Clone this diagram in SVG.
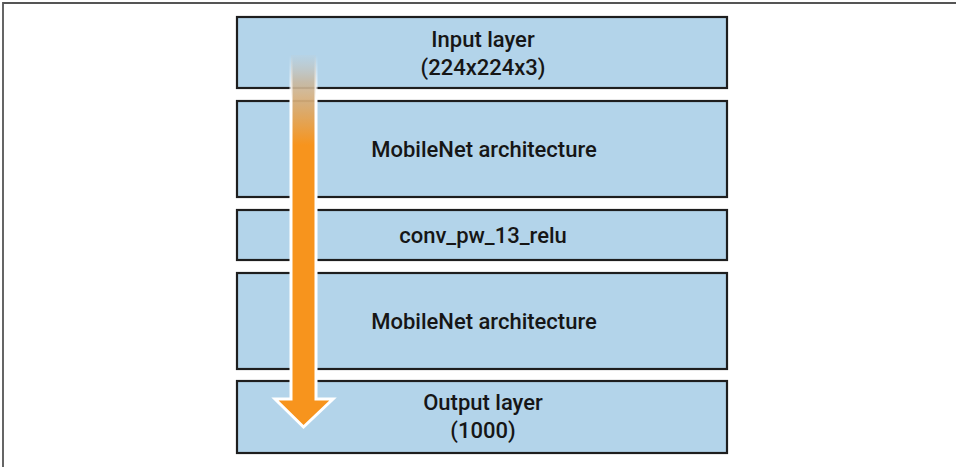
<svg xmlns="http://www.w3.org/2000/svg" width="956" height="467" viewBox="0 0 956 467">
<style>
.box{fill:#b3d4ea;stroke:#1e1e1e;stroke-width:2.2}
.lbl{font-family:Roboto,"Liberation Sans",Arial,sans-serif;font-weight:500;font-size:22px;fill:#161616;text-anchor:middle}
</style>
<defs>
<linearGradient id="ag" gradientUnits="userSpaceOnUse" x1="0" y1="55" x2="0" y2="145">
<stop offset="0" stop-color="#c9c4bc" stop-opacity="0.1"/>
<stop offset="0.3" stop-color="#c8b8a0" stop-opacity="0.9"/>
<stop offset="1" stop-color="#f7941d"/>
</linearGradient>
<linearGradient id="wg" gradientUnits="userSpaceOnUse" x1="0" y1="55" x2="0" y2="100">
<stop offset="0" stop-color="#ffffff" stop-opacity="0"/>
<stop offset="1" stop-color="#ffffff" stop-opacity="1"/>
</linearGradient>
</defs>
<rect width="956" height="467" fill="#ffffff"/>
<path d="M3 467 V3 H956" fill="none" stroke="#555" stroke-width="1.8"/>
<g id="input">
<rect class="box" x="237" y="17" width="490" height="71"/>
<text class="lbl" x="483" y="47">Input layer</text>
<text class="lbl" x="483" y="75">(224x224x3)</text>
</g>
<g id="mobilenet1">
<rect class="box" x="237" y="101" width="490" height="96"/>
<text class="lbl" x="484" y="157">MobileNet architecture</text>
</g>
<g id="conv">
<rect class="box" x="237" y="210" width="490" height="50"/>
<text class="lbl" x="483" y="243">conv_pw_13_relu</text>
</g>
<g id="mobilenet2">
<rect class="box" x="237" y="273" width="490" height="96"/>
<text class="lbl" x="484" y="329">MobileNet architecture</text>
</g>
<g id="output">
<rect class="box" x="237" y="381" width="490" height="72"/>
<text class="lbl" x="483" y="410">Output layer</text>
<text class="lbl" x="483" y="438">(1000)</text>
</g>
<g id="connectors">
<path d="M291 55 H316 V399 H333 L303.5 427 L275 399 H291 Z" fill="url(#ag)" stroke="url(#wg)" stroke-width="3" stroke-linejoin="miter"/>
</g>
</svg>
